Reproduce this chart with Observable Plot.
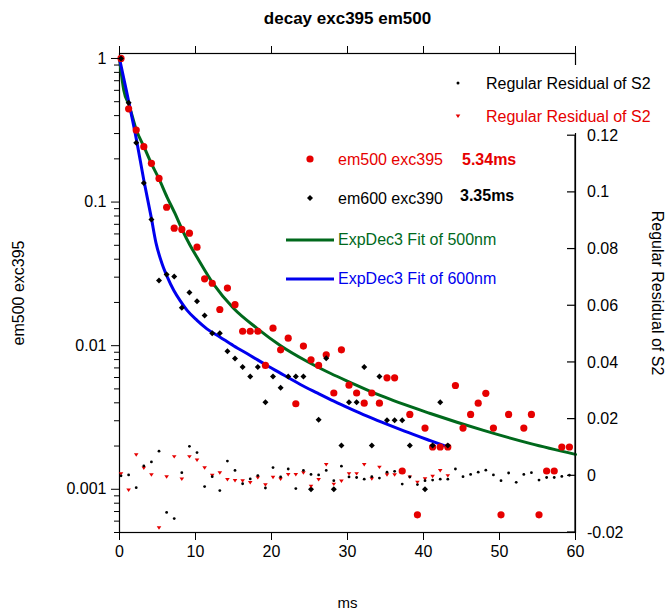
<!DOCTYPE html>
<html><head><meta charset="utf-8">
<script src="https://cdn.jsdelivr.net/npm/d3@7"></script>
<script src="https://cdn.jsdelivr.net/npm/@observablehq/plot@0.6"></script>
<style>body{margin:0;background:#fff;}</style>
</head><body><div id="chart"></div>
<script>
// ---------- data ----------
const times = [0.2,1.2,2.2,3.2,4.2,5.2,6.2,7.2,8.2,9.2,10.2,11.2,12.2,13.2,14.2,15.2,16.2,17.2,18.2,19.2,
  20.2,21.2,22.2,23.2,24.2,25.2,26.2,27.2,28.2,29.2,30.2,31.2,32.2,33.2,34.2,35.2,36.2,37.2,38.2,39.2,
  40.2,41.2,42.2,43.2,44.2,45.2,46.2,47.2,48.2,49.2,50.2,51.2,52.2,53.2,54.2,55.2,56.2,57.2,58.2,59.2];
// em500 exc395 (red circles)
const em500 = [1.0,0.446,0.317,0.243,0.186,0.146,0.092,0.0658,0.0645,0.0607,
  0.0485,0.0292,0.0272,0.01786,0.0252,0.0193,0.0126,0.0126,0.0126,0.00728,
  0.01324,0.00935,0.01128,0.00394,0.00993,0.00798,0.00728,0.00864,0.00468,0.00935,
  0.00531,0.00468,0.00398,0.00468,0.00398,0.00597,0.00597,0.00134,0.00332,0.000664,
  0.00267,0.00197,0.00197,0.00197,0.00528,0.00267,0.00332,0.00398,0.00466,0.00267,
  0.000664,0.00332,null,0.00267,0.00332,0.000664,0.00134,0.00134,0.00197,0.00197];
// em600 exc390 (black diamonds)
const em600 = [1.0,0.491,0.259,0.136,0.0757,0.0284,0.0313,0.0303,0.01836,0.0235,
  0.0204,0.0162,0.01222,0.01222,0.00916,0.00815,0.00709,0.0061,0.00709,0.00404,
  0.0061,0.00509,0.0061,0.0061,0.0061,0.001,0.00305,0.00818,0.001,0.00202,
  0.00404,0.00404,0.00709,0.00202,0.0061,0.00303,0.00303,0.00303,0.00202,null,
  0.001,0.00202,0.00404,0.00202];
// Regular Residual of S2 (black dots)
const residBlack = [0,0.0003,-0.0042,0.0035,0.0049,0.0087,-0.0129,-0.0151,0.0011,0.0104,
  0.0082,-0.0038,-0.0003,-0.0052,0.0052,0.0019,-0.0028,-0.0011,0.0001,-0.0043,
  0.0029,-0.0004,0.0024,-0.0045,0.0019,0.0005,0.0003,0.0019,-0.0017,0.0034,
  -0.0004,-0.0006,-0.0012,-0.0003,-0.0008,0.0013,0.0016,-0.0029,-0.0004,-0.0031,
  -0.0017,-0.0015,-0.0012,-0.0012,0.0024,-0.0003,0.0005,0.0013,0.002,0.0003,
  -0.0017,0.001,-0.0023,0.0005,0.0011,-0.0015,-0.0006,-0.0006,-0.0002,0.0002];
// Regular Residual of S2 (red triangles)
const residRed = [0.0008,-0.005,0.0075,0.0028,0.0004,-0.0183,-0.0003,0.0068,-0.0011,0.0068,
  0.0056,0.0029,0.0002,0.0011,-0.0013,-0.0016,-0.0017,-0.0023,-0.0006,-0.0031,
  -0.0005,-0.0011,0.0005,0.0005,0.0011,-0.0036,-0.0013,0.004,-0.0029,-0.0018,
  0.0008,0.0008,0.004,-0.001,0.0031,0.0004,0.0004,0.0013,-0.0004,-0.0022,
  -0.001,-0.0001,0.0019,0.0001];
// ExpDec3 fits
const fit500T = [0,0.57,1.27,2.24,3.2,4.2,5.2,6.27,7.3,8.3,9.3,10.2,12.4,15,18.1,21.2,24.7,27.8,30.4,34.3,40.9,47.9,54.1,60];
const fit500V = [1,0.599,0.471,0.315,0.244,0.185,0.145,0.108,0.0833,0.0634,0.0498,0.0413,0.0267,0.0182,0.0132,0.0100,0.00776,0.00640,0.00554,0.00450,0.00337,0.00257,0.00208,0.00175];
const fit600T = [0,0.9,1.27,2.24,3.2,4.2,4.8,5.6,6.3,7.15,8.0,8.9,10.2,11.5,13.2,15,17.2,19.4,21.6,23.8,26,28.2,30.4,32.5,34.5,37.5,40.9,43.2];
const fit600V = [1,0.6,0.483,0.27,0.142,0.077,0.052,0.0372,0.030,0.0242,0.0205,0.0176,0.0150,0.0131,0.0115,0.0100,0.00855,0.00728,0.00625,0.00537,0.00469,0.00411,0.00363,0.00324,0.00293,0.00254,0.00218,0.00197];
// ticks
const xTicks = [0,10,20,30,40,50,60];
const yMajor = [1,0.1,0.01,0.001];
const resTicks = [-0.02,0,0.02,0.04,0.06,0.08,0.1,0.12];
const resTickLabels = ["-0.02","0","0.02","0.04","0.06","0.08","0.1","0.12"];

// ---------- setup ----------
const RED = "#e60000", GREEN = "#00691c", BLUE = "#0000ee";
const FONT = "'Liberation Sans', Arial, Helvetica, sans-serif";
const yLo = 0.0005, yHi = 1.083, rLo = -0.02, rHi = 0.149;
const L = Math.log10;
const resToY = r => 10 ** (L(yLo) + (r - rLo) / (rHi - rLo) * (L(yHi) - L(yLo)));

const redPts = times.map((t, i) => ({t, v: em500[i]})).filter(d => d.v != null);
const blkPts = em600.map((v, i) => ({t: times[i], v})).filter(d => d.v != null);
const resBlkPts = residBlack.map((r, i) => ({t: times[i], r}));
const resRedPts = residRed.map((r, i) => ({t: times[i], r}));
const fit500 = fit500T.map((t, i) => ({t, v: fit500V[i]}));
const fit600 = fit600T.map((t, i) => ({t, v: fit600V[i]}));

const yMinor = [];
for (let e = -4; e <= -1; e++) for (let k = 2; k <= 9; k++) {
  const v = k * 10 ** e;
  if (v >= yLo * 0.999 && v <= yHi) yMinor.push(v);
}

const diamond = {draw(c, size) { const r = Math.sqrt(size / Math.PI); c.moveTo(0, -r); c.lineTo(r, 0); c.lineTo(0, r); c.lineTo(-r, 0); c.closePath(); }};
const downTri = {draw(c, size) { const r = Math.sqrt(size / Math.PI); c.moveTo(-r, -r * 0.6); c.lineTo(r, -r * 0.6); c.lineTo(0, r * 0.9); c.closePath(); }};

const chart = Plot.plot({
  width: 669, height: 612,
  marginTop: 53, marginBottom: 80, marginLeft: 119, marginRight: 94,
  style: {fontFamily: FONT, fontSize: "16px", background: "white", color: "black"},
  x: {domain: [0, 60], label: null},
  y: {type: "log", domain: [yLo, yHi], label: null},
  marks: [
    Plot.frame({stroke: "black", strokeWidth: 1.2}),
    Plot.line(fit500, {x: "t", y: "v", stroke: GREEN, strokeWidth: 3, curve: "monotone-x"}),
    Plot.line(fit600, {x: "t", y: "v", stroke: BLUE, strokeWidth: 3, curve: "monotone-x"}),
    Plot.dot(redPts, {x: "t", y: "v", r: 3.6, fill: RED, symbol: "circle"}),
    Plot.dot(blkPts, {x: "t", y: "v", r: 3, fill: "black", symbol: diamond}),
    Plot.dot(resRedPts, {x: "t", y: d => resToY(d.r), r: 2.3, fill: RED, symbol: downTri}),
    Plot.dot(resBlkPts, {x: "t", y: d => resToY(d.r), r: 1.4, fill: "black", symbol: "circle"}),
    Plot.axisX({anchor: "bottom", ticks: xTicks, tickSize: 8, tickPadding: 5, label: null, tickFormat: d => String(d), fontSize: 16}),
    Plot.axisX({anchor: "top", ticks: xTicks, tickSize: 8, label: null, tickFormat: () => ""}),
    Plot.axisY({anchor: "left", ticks: yMajor, tickSize: 8, tickPadding: 5, label: null, tickFormat: d => String(d), fontSize: 16}),
    Plot.axisY({anchor: "left", ticks: yMinor, tickSize: 5, label: null, tickFormat: () => ""}),
    Plot.text(["decay exc395 em500"], {text: d => d, frameAnchor: "top", dy: -35, lineAnchor: "middle", fontWeight: "bold", fontSize: 17}),
    Plot.text(["ms"], {text: d => d, frameAnchor: "bottom", dy: 71, lineAnchor: "middle", fontSize: 15}),
    Plot.text(["em500 exc395"], {text: d => d, frameAnchor: "left", dx: -101, rotate: -90, lineAnchor: "middle", textAnchor: "middle", fontSize: 16}),
    Plot.text(["Regular Residual of S2"], {text: d => d, frameAnchor: "right", dx: 82, rotate: 90, lineAnchor: "middle", textAnchor: "middle", fontSize: 16})
  ]
});

const svg = d3.select(chart);
const xs = chart.scale("x"), ys = chart.scale("y");

// legend (white box covers the frame's right edge there, as in the reference)
const g = svg.append("g").attr("font-family", FONT).attr("font-size", 16).attr("text-anchor", "start");
g.append("rect").attr("x", 450).attr("y", 65).attr("width", 210).attr("height", 68).attr("fill", "white");
const symPath = (shape, r) => { const p = d3.path(); shape.draw(p, r * r * Math.PI); return p.toString(); };
g.append("circle").attr("cx", 458).attr("cy", 83).attr("r", 1.5).attr("fill", "black");
g.append("path").attr("d", symPath(downTri, 2.3)).attr("transform", "translate(458,116)").attr("fill", RED);
g.append("circle").attr("cx", 310).attr("cy", 159).attr("r", 3.6).attr("fill", RED);
g.append("path").attr("d", symPath(diamond, 3)).attr("transform", "translate(310,198)").attr("fill", "black");
g.append("line").attr("x1", 286).attr("x2", 334).attr("y1", 240).attr("y2", 240).attr("stroke", GREEN).attr("stroke-width", 3);
g.append("line").attr("x1", 286).attr("x2", 334).attr("y1", 279).attr("y2", 279).attr("stroke", BLUE).attr("stroke-width", 3);
const txt = (s, x, y, fill, bold) => g.append("text").attr("x", x).attr("y", y).attr("dy", "0.35em").attr("fill", fill).attr("font-weight", bold ? "bold" : null).text(s);
txt("Regular Residual of S2", 486, 83, "black");
txt("Regular Residual of S2", 486, 116, RED);
txt("em500 exc395", 338, 159, RED);
txt("5.34ms", 462, 159, RED, true);
txt("em600 exc390", 338, 198, "black");
txt("3.35ms", 460, 195, "black", true);
txt("ExpDec3 Fit of 500nm", 338, 239, GREEN);
txt("ExpDec3 Fit of 600nm", 338, 278, BLUE);

// right residual axis, positioned with Plot's own x and y scales
const ra = svg.append("g").attr("font-family", FONT).attr("font-size", 16).attr("text-anchor", "start");
const xr = xs.apply(60);
resTicks.forEach((r, i) => {
  const yy = ys.apply(resToY(r));
  ra.append("line").attr("x1", xr - 8).attr("x2", xr).attr("y1", yy).attr("y2", yy).attr("stroke", "black").attr("stroke-width", 1.2);
  ra.append("text").attr("x", xr + 12).attr("y", yy).attr("dy", "0.35em").attr("fill", "black").text(resTickLabels[i]);
});
ra.append("line").attr("x1", xr).attr("x2", xr).attr("y1", ys.apply(resToY(0.12))).attr("y2", ys.apply(yLo)).attr("stroke", "black").attr("stroke-width", 1.2);

document.getElementById("chart").appendChild(chart);
</script>
</body></html>
